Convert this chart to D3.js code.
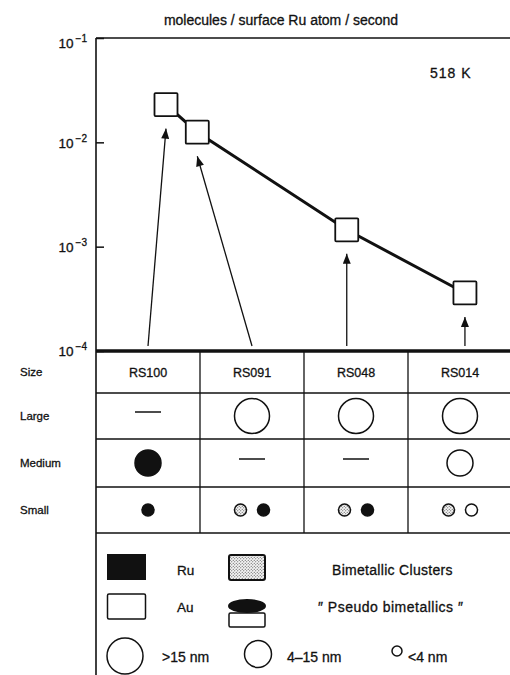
<!DOCTYPE html>
<html>
<head>
<meta charset="utf-8">
<script src="https://cdn.jsdelivr.net/npm/d3@7"></script>
<style>
  body { margin: 0; background: #fff; }
  svg { display: block; }
  text { font-family: "Liberation Sans", Arial, sans-serif; fill: #111; stroke: #111; stroke-width: 0.3; }
</style>
</head>
<body>
<svg id="chart" width="510" height="675"></svg>
<script>
// ---- data ----
var samples = ["RS100", "RS091", "RS048", "RS014"];
var auContent = [0, 9, 52, 86];              // at.% Au (100 - Ru)
var rate = [0.023, 0.0125, 0.00145, 0.00036]; // molecules / surface Ru atom / s
var yTicks = [1e-1, 1e-2, 1e-3, 1e-4];
var rowLabels = ["Size", "Large", "Medium", "Small"];
// particle types per size class: Ru = filled, Au = open, Bi = bimetallic (stippled); empty = dash
var largeParticles = [[], ["Au"], ["Au"], ["Au"]];
var mediumParticles = [["Ru"], [], [], ["Au"]];
var smallParticles = [["Ru"], ["Bi", "Ru"], ["Bi", "Ru"], ["Bi", "Au"]];

// ---- layout ----
var svg = d3.select("#chart");
var plotLeft = 96, plotRight = 512, plotTop = 38, plotBottom = 351;
var rowTop = {Size: 351, Large: 393, Medium: 439, Small: 487};
var rowBottom = {Size: 393, Large: 439, Medium: 487, Small: 533};
var radius = {Large: 17.5, Medium: 13, Small: 6};

var x = d3.scaleLinear().domain([0, 100]).range([166, 513.6]);
var y = d3.scaleLog().domain([1e-4, 1e-1]).range([plotBottom, plotTop]);
var col = d3.scaleBand().domain(samples).range([plotLeft, plotRight]);

var defs = svg.append("defs");
var pat = defs.append("pattern").attr("id", "stipple")
    .attr("patternUnits", "userSpaceOnUse").attr("width", 3).attr("height", 3);
pat.append("rect").attr("width", 3).attr("height", 3).attr("fill", "#f4f4f4");
pat.append("circle").attr("cx", 0.75).attr("cy", 0.75).attr("r", 0.55).attr("fill", "#444");
pat.append("circle").attr("cx", 2.25).attr("cy", 2.25).attr("r", 0.55).attr("fill", "#444");

defs.append("marker").attr("id", "head")
    .attr("viewBox", "0 0 10 8").attr("refX", 10).attr("refY", 4)
    .attr("markerUnits", "userSpaceOnUse")
    .attr("markerWidth", 11).attr("markerHeight", 8).attr("orient", "auto")
  .append("path").attr("d", "M0,0 L10,4 L0,8 Z").attr("fill", "#111");

// title
svg.append("text").attr("x", 281).attr("y", 25).attr("text-anchor", "middle")
    .attr("font-size", 14).text("molecules / surface Ru atom / second");
svg.append("text").attr("x", 430).attr("y", 78).attr("font-size", 14)
    .attr("letter-spacing", 1).text("518 K");

// frame lines
svg.append("line").attr("x1", plotLeft).attr("x2", 510).attr("y1", plotTop).attr("y2", plotTop)
    .attr("stroke", "#111").attr("stroke-width", 1.5);
svg.append("line").attr("x1", plotLeft).attr("x2", plotLeft).attr("y1", plotTop).attr("y2", 675)
    .attr("stroke", "#111").attr("stroke-width", 1.6);

// y axis
var yAxis = svg.append("g").attr("transform", "translate(" + plotLeft + ",0)")
    .call(d3.axisLeft(y).tickValues(yTicks).tickSize(-8).tickSizeOuter(0).tickPadding(9).tickFormat(""));
yAxis.select(".domain").remove();
yAxis.selectAll(".tick line").attr("stroke", "#111").attr("stroke-width", 1.5);
yAxis.selectAll(".tick text").each(function(d) {
  var t = d3.select(this).attr("fill", null).attr("font-size", 13.5)
      .attr("font-family", null).attr("dy", d === 1e-1 ? "0.7em" : "0.35em");
  t.append("tspan").text("10");
  t.append("tspan").attr("dx", 2).attr("dy", -6).attr("font-size", 10)
      .text("\u2212" + Math.round(-Math.log10(d)));
});

// table grid
svg.append("line").attr("x1", plotLeft).attr("x2", 510).attr("y1", plotBottom).attr("y2", plotBottom)
    .attr("stroke", "#111").attr("stroke-width", 3.5);
svg.selectAll("line.row").data(rowLabels).enter().append("line").attr("class", "row")
    .attr("x1", plotLeft).attr("x2", 510)
    .attr("y1", function(d) { return rowBottom[d]; }).attr("y2", function(d) { return rowBottom[d]; })
    .attr("stroke", "#111").attr("stroke-width", 1.3);
svg.selectAll("line.col").data(samples.slice(1)).enter().append("line").attr("class", "col")
    .attr("x1", function(d) { return col(d); }).attr("x2", function(d) { return col(d); })
    .attr("y1", plotBottom).attr("y2", rowBottom.Small)
    .attr("stroke", "#111").attr("stroke-width", 1.3);

svg.selectAll("text.rowlab").data(rowLabels).enter().append("text").attr("class", "rowlab")
    .attr("x", 20).attr("y", function(d) { return (rowTop[d] + rowBottom[d]) / 2 + 4; })
    .attr("font-size", 11.5).text(function(d) { return d; });

svg.selectAll("text.head").data(samples).enter().append("text").attr("class", "head")
    .attr("x", function(d) { return col(d) + col.bandwidth() / 2; })
    .attr("y", (rowTop.Size + rowBottom.Size) / 2 + 4.5)
    .attr("text-anchor", "middle").attr("font-size", 12.5).text(function(d) { return d; });

function fillOf(type) {
  return type === "Ru" ? "#111" : type === "Bi" ? "url(#stipple)" : "#fff";
}
[["Large", largeParticles], ["Medium", mediumParticles], ["Small", smallParticles]].forEach(function(row) {
  var name = row[0], cells = row[1];
  var cy = (rowTop[name] + rowBottom[name]) / 2;
  var r = radius[name];
  cells.forEach(function(parts, i) {
    var cx = col(samples[i]) + col.bandwidth() / 2;
    if (parts.length === 0) {
      svg.append("line").attr("x1", cx - 13).attr("x2", cx + 13)
          .attr("y1", cy - 4).attr("y2", cy - 4).attr("stroke", "#111").attr("stroke-width", 1.5);
      return;
    }
    var spacing = 23;
    parts.forEach(function(p, k) {
      var off = (k - (parts.length - 1) / 2) * spacing;
      svg.append("circle").attr("cx", cx + off).attr("cy", cy).attr("r", r)
          .attr("fill", fillOf(p)).attr("stroke", "#111").attr("stroke-width", 1.5);
    });
  });
});

// arrows from table header to data points (vertical when the point sits above its column)
function arrowBase(d, i) {
  var c = col(d) + col.bandwidth() / 2, px = x(auContent[i]);
  return Math.abs(c - px) < 15 ? px : c;
}
svg.selectAll("line.arrow").data(samples).enter().append("line").attr("class", "arrow")
    .attr("x1", arrowBase)
    .attr("y1", plotBottom - 5)
    .attr("x2", function(d, i) { return x(auContent[i]); })
    .attr("y2", function(d, i) { return y(rate[i]) + 24; })
    .attr("stroke", "#111").attr("stroke-width", 1.3)
    .attr("marker-end", "url(#head)");

// data line + squares
var pts = samples.map(function(s, i) { return [x(auContent[i]), y(rate[i])]; });
svg.append("path").attr("d", d3.line()(pts)).attr("fill", "none")
    .attr("stroke", "#111").attr("stroke-width", 3);
svg.selectAll("rect.pt").data(pts).enter().append("rect").attr("class", "pt")
    .attr("x", function(d) { return d[0] - 11.5; }).attr("y", function(d) { return d[1] - 11.5; })
    .attr("width", 23).attr("height", 23).attr("rx", 1)
    .attr("fill", "#fff").attr("stroke", "#111").attr("stroke-width", 1.8);

// legend
var lg = svg.append("g");
lg.append("rect").attr("x", 107).attr("y", 554).attr("width", 39).attr("height", 26).attr("fill", "#111");
lg.append("rect").attr("x", 229).attr("y", 555).attr("width", 36).attr("height", 25).attr("rx", 2)
    .attr("fill", "url(#stipple)").attr("stroke", "#111").attr("stroke-width", 2);
lg.append("rect").attr("x", 107.5).attr("y", 594).attr("width", 38).attr("height", 25).attr("rx", 1.5)
    .attr("fill", "#fff").attr("stroke", "#111").attr("stroke-width", 1.5);
lg.append("rect").attr("x", 229).attr("y", 613).attr("width", 36).attr("height", 14).attr("rx", 1.5)
    .attr("fill", "#fff").attr("stroke", "#111").attr("stroke-width", 1.5);
lg.append("ellipse").attr("cx", 247).attr("cy", 606).attr("rx", 19).attr("ry", 7).attr("fill", "#111");
lg.append("text").attr("x", 177).attr("y", 575).attr("font-size", 13.5).text("Ru");
lg.append("text").attr("x", 177).attr("y", 612).attr("font-size", 13.5).text("Au");
lg.append("text").attr("x", 332).attr("y", 575).attr("font-size", 14).attr("letter-spacing", 0.3).text("Bimetallic Clusters");
lg.append("text").attr("x", 318).attr("y", 612).attr("font-size", 14).attr("letter-spacing", 0.5).text("\u2033 Pseudo bimetallics \u2033");
lg.append("circle").attr("cx", 125).attr("cy", 656).attr("r", 18)
    .attr("fill", "#fff").attr("stroke", "#111").attr("stroke-width", 1.5);
lg.append("circle").attr("cx", 258).attr("cy", 654).attr("r", 13.5)
    .attr("fill", "#fff").attr("stroke", "#111").attr("stroke-width", 1.5);
lg.append("circle").attr("cx", 397).attr("cy", 651).attr("r", 5)
    .attr("fill", "#fff").attr("stroke", "#111").attr("stroke-width", 1.5);
lg.append("text").attr("x", 162).attr("y", 662).attr("font-size", 14).text(">15 nm");
lg.append("text").attr("x", 287).attr("y", 662).attr("font-size", 14).text("4\u201315 nm");
lg.append("text").attr("x", 408).attr("y", 662).attr("font-size", 14).text("<4 nm");
</script>
</body>
</html>
